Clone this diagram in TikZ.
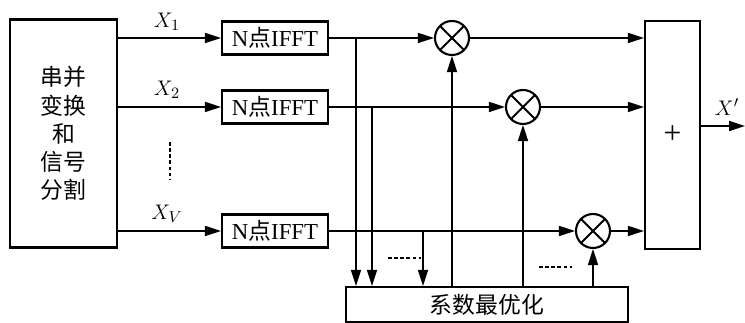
\documentclass[tikz,border=0pt]{standalone}
\usepackage{fontspec}
\setmainfont{Liberation Serif}
\newfontfamily\cjk{Noto Sans CJK SC}
\usetikzlibrary{arrows.meta, positioning, calc}

\begin{document}
\begin{tikzpicture}[
    x=0.02cm, y=-0.02cm,
    font=\fontsize{13}{16}\selectfont,
    block/.style={rectangle, draw, line width=1.2pt, inner sep=2pt, align=center},
    mult/.style={circle, draw, line width=1.2pt, minimum size=0.68cm, inner sep=0pt,
        path picture={\draw[line width=1.2pt] (path picture bounding box.north west) -- (path picture bounding box.south east);
                      \draw[line width=1.2pt] (path picture bounding box.north east) -- (path picture bounding box.south west);}},
    arrow/.style={-{Triangle[length=0.32cm, width=0.2cm]}, line width=1pt},
    line/.style={line width=1pt}
]
\useasboundingbox (0,0) rectangle (745,323);

% Nodes
\node[block, minimum width=2.14cm, minimum height=4.56cm] (split) at (63.5,133.5) {\cjk 串并\\\cjk 变换\\\cjk 和\\\cjk 信号\\\cjk 分割};
\node[block, minimum width=2.12cm, minimum height=0.66cm] (fft1) at (275,38) {N{\cjk 点}IFFT};
\node[block, minimum width=2.12cm, minimum height=0.66cm] (fft2) at (275,107) {N{\cjk 点}IFFT};
\node[block, minimum width=2.12cm, minimum height=0.66cm] (fftv) at (275,231) {N{\cjk 点}IFFT};
\node[mult] (m1) at (452,38) {};
\node[mult] (m2) at (523,107) {};
\node[mult] (mv) at (593,231) {};
\node[block, minimum width=1.1cm, minimum height=4.56cm, font=\fontsize{18}{20}\selectfont] (sum) at (672.5,135) {+};
\node[block, minimum width=5.64cm, minimum height=0.7cm] (opt) at (487,304.5) {\cjk 系数最优化};

\coordinate (t1) at (356,38);
\coordinate (t2) at (372,107);
\coordinate (tv) at (423,231);
\coordinate (out) at (745,126);

% Labels
\node (lx1) at (167,22) {$X_1$};
\node (lx2) at (167,90) {$X_2$};
\node (lxv) at (167,214) {$X_V$};
\node (lxo) at (727,107) {$X'$};

% Arrows
\draw[arrow] (split.east |- fft1) -- (fft1);
\draw[arrow] (split.east |- fft2) -- (fft2);
\draw[arrow] (split.east |- fftv) -- (fftv);
\draw[arrow] (fft1) -- (m1);
\draw[arrow] (fft2) -- (m2);
\draw[arrow] (fftv) -- (mv);
\draw[arrow] (m1) -- (sum.west |- m1);
\draw[arrow] (m2) -- (sum.west |- m2);
\draw[arrow] (mv) -- (sum.west |- mv);
\draw[arrow] (t1) -- (opt.north -| t1);
\draw[arrow] (t2) -- (opt.north -| t2);
\draw[arrow] (tv) -- (opt.north -| tv);
\draw[arrow] (opt.north -| m1) -- (m1);
\draw[arrow] (opt.north -| m2) -- (m2);
\draw[arrow] (opt.north -| mv) -- (mv);
\draw[arrow] (sum.east |- out) -- (out);

% Dots
\draw[line, dashed, dash pattern=on 2pt off 1.5pt] (170,142) -- (170,180);
\draw[line, dashed, dash pattern=on 2pt off 1.5pt] (388,258) -- (421,258);
\draw[line, dashed, dash pattern=on 2pt off 1.5pt] (539,267) -- (572,267);

\end{tikzpicture}
\end{document}
